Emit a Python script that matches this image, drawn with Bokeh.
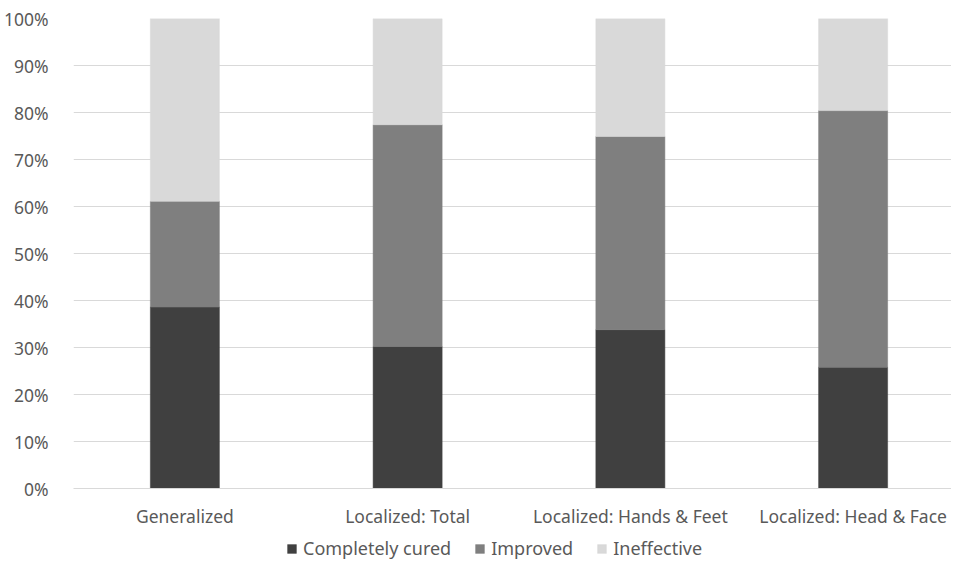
from bokeh.plotting import figure
from bokeh.layouts import column
from bokeh.models import ColumnDataSource, Range1d, FixedTicker, PrintfTickFormatter, Legend, LegendItem
from bokeh.embed import file_html
from bokeh.resources import INLINE

categories = ["Generalized", "Localized: Total", "Localized: Hands & Feet", "Localized: Head & Face"]
completely_cured = [38.6, 30.2, 33.8, 25.8]
improved = [22.5, 47.2, 41.1, 54.6]
ineffective = [38.9, 22.6, 25.1, 19.6]
series = ["Completely cured", "Improved", "Ineffective"]
colors = ["#404040", "#7f7f7f", "#d9d9d9"]
y_ticks = [0, 10, 20, 30, 40, 50, 60, 70, 80, 90, 100]

xs = list(range(len(categories)))
source = ColumnDataSource(dict(x=xs, cured=completely_cured, improved=improved, ineffective=ineffective))

FONT = "Noto Sans"
TXT = "#595959"
FS = "17.5px"

p = figure(width=951, height=530, output_backend="svg", toolbar_location=None,
           x_range=Range1d(-0.5, 3.4417), y_range=Range1d(0, 100),
           min_border_left=72, min_border_top=18, min_border_right=0, min_border_bottom=42)
p.outline_line_color = None
p.background_fill_color = "white"
p.border_fill_color = "white"

p.vbar_stack(["cured", "improved", "ineffective"], x="x", width=0.31, source=source,
             fill_color=colors, line_color=colors, line_width=0.5)

p.yaxis.ticker = FixedTicker(ticks=y_ticks)
p.yaxis.formatter = PrintfTickFormatter(format="%d%%")
p.yaxis.axis_line_color = None
p.yaxis.major_tick_line_color = None
p.yaxis.minor_tick_line_color = None
p.yaxis.major_label_text_font = FONT
p.yaxis.major_label_text_font_size = FS
p.yaxis.major_label_text_color = TXT
p.yaxis.major_label_standoff = 19

p.xaxis.ticker = FixedTicker(ticks=xs)
p.xaxis.major_label_overrides = {i: c for i, c in enumerate(categories)}
p.xaxis.axis_line_color = "#d9d9d9"
p.xaxis.major_tick_line_color = None
p.xaxis.minor_tick_line_color = None
p.xaxis.major_label_text_font = FONT
p.xaxis.major_label_text_font_size = FS
p.xaxis.major_label_text_color = TXT
p.xaxis.major_label_standoff = 9

p.xgrid.grid_line_color = None
p.ygrid.grid_line_color = "#d9d9d9"
p.ygrid.grid_line_width = 1

# legend strip below the chart (its bars lie outside its visible range; only the legend shows)
lp = figure(width=951, height=30, output_backend="svg", toolbar_location=None,
            x_range=Range1d(-0.5, 3.4417), y_range=Range1d(1000, 1001),
            min_border_left=72, min_border_top=0, min_border_right=0, min_border_bottom=0)
lp.axis.visible = False
lp.grid.visible = False
lp.outline_line_color = None
lp.border_fill_color = "white"
lp.background_fill_color = "white"
legend_renderers = lp.vbar_stack(["cured", "improved", "ineffective"], x="x", width=0.31, source=source,
                                 fill_color=colors, line_color=colors, line_width=0.5)
legend = Legend(items=[LegendItem(label=s, renderers=[r]) for s, r in zip(series, legend_renderers)],
                orientation="horizontal", location=(213, 0),
                glyph_width=11, glyph_height=11, label_standoff=6, spacing=23, label_height=18,
                label_text_font=FONT, label_text_font_size="18px", label_text_color=TXT,
                border_line_color=None, background_fill_alpha=0, padding=0, margin=0)
lp.add_layout(legend, "center")

layout = column(p, lp, spacing=0)
open("out.html", "w").write(file_html(layout, INLINE))
